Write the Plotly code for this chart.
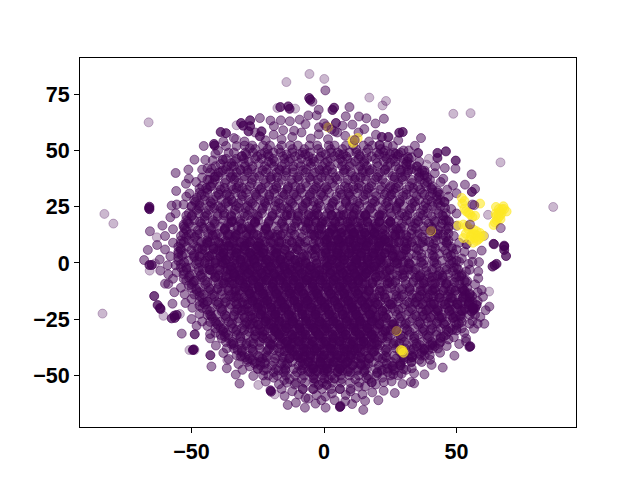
import plotly.graph_objects as go

# Estimated t-SNE embedding points (x, y)
faint_points = [(-66.2,62.5),(-82.9,21.8),(-79.5,17.5),(-14.2,80.4),(-5.5,84),(0.1,81.8),(-83.6,-22.5),(17.1,73.5),
(23.4,72),(22.1,70),(48.8,66.3),(55.3,66.6),(66.6,44.7),(86.5,24.9),(-24.8,-54.2),(-33,61.2),(-17.6,68.9),
(-18.6,-58.4),(62.3,-12.7),(61.9,21.4),(60.4,12),(-63.1,11.4),(-33.2,55),(-65.8,-3.4),(-60.6,-23.5),(-50.8,-38.7),
(-48.9,-38.7),(39.6,46.3),(38.7,43.7),(-10.9,68.6),(-54.4,-22.7),(-63.8,-0.2),(-36.5,-43.2)]

medium_points = [(0.5,76.7),(-4.4,71.7),(-2,68.1),(-2.8,65.6),(-5.9,65.6),(-9.2,63.7),(-12.9,63),(-16.3,63.4),(-20.2,63.3),
(-24.2,64.4),(-18.9,60.8),(-15.4,59),(-11.3,58.8),(-7,61.7),(-1.9,60.3),(-45.4,52),(-37,52),(-48.9,45.9),(-44.8,45.8),
(-42,45.6),(-51.2,41.5),(-46,41.5),(-42.4,41.8),(-56,40),(-39.1,40.3),(-52.1,35.2),(-48.3,36),(-43.3,37),(-55.8,32),
(-50.8,30.9),(-55.6,26),(-57.5,25.5),(-58,20.3),(-61,16.6),(-65.7,14.1),(-66.5,5.8),(-67.9,1.3),(-61.8,-3.4),(-58.8,-5),
(-55.6,-4.2),(-60,-9.2),(-58.8,-9.3),(-56.5,-13),(-52.6,-13.9),(-57.2,-18.1),(-52.3,-17.8),(-49.7,-19.9),(-47,-22.7),
(-50,-24.9),(-48.1,-27.9),(-53.7,-31.4),(-43,-31.6),(-43,-33.5),(-40.8,-36.7),(-38.6,-33.5),(-36.7,-38),(-36,-42.7),
(-31.5,-41.6),(-42.5,-46),(-36.7,-46.8),(-32.3,-44.9),(-27,-43.1),(-30.8,-47.5),(-33.3,-49.6),(-31.9,-53.6),(-26.7,-50.2),
(-22,-52.7),(-17,-53.9),(-14.9,-59.1),(-13.7,-63.1),(-10.6,-62.1),(-9.5,-58.5),(-7.2,-64.3),(-3.2,-62.5),(0.6,-64.3),
(0.6,-59.4),(-5.9,-60.3),(-2.8,-58.7),(10.6,-62.7),(14.8,-65.3),(15.5,-61.3),(20.5,-61),(18.2,-57.5),(22.5,-56.8),
(26.7,-57.8),(14.5,-58.4),(8.2,-58.7),(29.6,-53.8),(32.8,-52.9),(34,-53.5),(25.5,-52.6),(22.6,-53),(19.6,-54),(15.5,-54.9),
(37.9,-49.5),(29.3,-49.3),(26.2,-49.5),(44.8,-46.5),(40.6,-45.3),(36.9,-44),(33.1,-46.8),(28.7,-45.5),(49.2,-41.2),
(43.8,-39.9),(39.9,-41),(36.1,-40.3),(33.1,-41.9),(41.8,-36.9),(46.3,-36.9),(53.6,-34.9),(53.6,-33.5),(56.6,-29.2),
(60.5,-27),(62.4,-19.4),(58.2,-6.8),(58.2,-3.8),(58.5,0.4),(54.5,-0.4),(53.6,-3.8),(59.5,5.5),(56,3.8),(51,0.6),(59.5,-12),
(56,-25.8),(50,-30),(9.6,69.3),(8.2,65.2),(13.2,65.1),(16,64.3),(22.6,64.1),(19.4,62),(10.7,61.5),(15.2,59.5),(19.6,57),
(36.6,55.5),(34.3,52.1),(30,50),(31.6,47.1),(49.6,41.9),(45.6,42.2),(55.7,39.4),(53.2,34.8),(57,32.9),(48.7,34.5),(46.5,32.6),
(45,37.4),(41.8,39.9),(37.9,38.9),(35.2,42.8),(32.5,43.7),(64.2,8.3),
(-34,55.5),(-30,54),(-26,58),(-22,54.5),(-19,57),(-16,55),(-12,56),(-8.5,58),(-5,55.3),(-2,57.2),(1.5,55),(5,58),(8,56.5),(0,62),
(4,58.5),(7,61),(13,58),(17,54),(21,52.5),(26,52),(28,54.5),(32,50),(33,47),(-36,49),(-41,48.5),(-33,52),(-28,51),(-38,54),(-31,47.5),
(36,45),(38,41),(42,43),(39,36),(44,36),(43,32),(47,29.5),(50,31),(45.5,27),(48,24),(50,22),(47,19),(50,16.5),(35,41),(31,44),(27,48.5),(23,50),
(49,12),(51,9),(50,6),(53,5),(52,2),(56,0.5),(55,-3),(51,-6),(54,-8),(57,-9.5),(58,-13),(55,-13.5),(60,-15),(58,-17),(61,-21),(59,-24),(57,-23),
(55,-27),(58,-27),(52,-29),(53,-31),(49,-33),(47,-34),(51,-36),(44,-33),(43,-38),(40,-36.5),(38,-38),(35,-37),(40,-43),(36,-43),(33,-44),(30,-43),
(34,-49),(31,-47.5),(28,-50),(24,-47),(26,-46),(22,-51),(20,-49),(18,-53),(13,-55),(10,-57),(16,-51),(6,-56),(3,-58),(12,-60),(8,-61.5),(4,-61),
(-1,-61),(-4,-56),(-8,-56),(-12,-57),(-7,-60),(-11,-54),(-15,-52),(-19,-51),(-23,-50),(-16,-56),(-25,-47),(-28,-46),(-24,-44),(-29,-43),(-33,-41),
(-31,-39),(-35,-36),(-38,-40),(-37,-31),(-41,-31),(-39,-29),(-44,-28),(-41,-26),(-46,-26),(-43,-23),(-47,-19),(-44,-17),(-50,-16),(-47,-13),(-51,-10),
(-54,-11),(-49,-8),(-53,-7),(-57,-7),(-56,-1),(-52,-2),(-59,-1),(-62,1.5),(-58,3),(-60,6),(-55,5),(-63,8),(-57,9),(-60,12),(-54,12),(-57,15),(-53,17),
(-56,22),(-52,21),(-53,26),(-50,25),(-52,29.5),(-48,29),(-47,33),(-51,37.5),(-46,38),(-43,34),(-44,42),(-41,38.5),(-39,44),(-35,43),(-40,50)]

dark_points = [(-5.6,73.3),(-5.2,72.5),(-16.5,69.3),(-13.5,69.6),(-13,68.5),(-27.9,63.4),(-31.3,62.2),(-30.5,61),(-27.9,60.8),
(-28.5,58.5),(-23.6,58.5),(-24.2,56.3),(-39,58.2),(-37,57.7),(-41.5,52.9),(-41.3,52.2),(-38.2,45.9),(-65.9,25),(-65.9,23.9),
(-66,24.4),(-65,-0.9),(-65.9,-0.9),(-64.1,-14.7),(-62.8,-18.7),(-61.9,-20),(-61.7,-20.5),(-56.5,-23.4),(-57.5,-24.6),
(-55.6,-23.1),(-56.3,-24.4),(-48.8,-31.7),(-49.5,-38.7),(-49.2,-38.4),(-42.9,-41),(-20,-57.2),(-20.2,-56.6),(6,-64),(6.2,-63.6),
(3.8,69),(3.2,68),(4.5,62.2),(28.4,57.9),(29.7,58.2),(21.8,56),(24.3,56),(35.5,48.9),(42.8,48.9),(46,49.6),(42.8,46.7),(49.7,45.5),
(55.8,31.6),(68,7.3),(68,5.8),(68.7,3.1),(63.6,-1.6),(65.1,-0.4),(64.4,-1),(54.9,-37.3),(55.2,-37),(56.4,-20.9),(57,-20.2),
(55.7,-21.6),(57.6,-18.7),(56.2,-20),(68,7.7),(64,8.5),(53.8,8.3)]

pass1_y = [52.2,49.1,46.3,43,40.2,37,34.1,31.2,28,25.3,22.1,19,16.2,13.1,10,7.2,4.1,1,-2.1,-5,-7.8,-11.1,-14,-17.2,-20,-23.1,-26.2,-29,-32,-35.1,-38,-41.2,-44,-47.1,-50,-53.2,-56]
pass1_x = [
[-30,-27.1,-23,-20.4,-16,-12.7,-9.9,-5.5,-2.6,1.8,4,8.3,11,14.9,18.2,21,24],
[-34,-29.6,-26.8,-22.5,-19,-16.4,-12,-8.1,-5.3,-1,2.7,5.1,9.6,12.2,16,19.9,22.4,26.3,29],
[-37,-33.2,-30.3,-26,-23.5,-19.2,-15,-12.6,-8.5,-4.2,-1.9,2.4,6.1,8.8,13,16.2,19.4,23.7,26.1,30,32],
[-41,-36.5,-34,-29.8,-27,-22.4,-19,-16,-11.5,-8.8,-4.9,-0.6,2.2,6.8,9.7,13.6,16.1,20.3,23.9,27,31.2,35],
[-43,-39.8,-35.6,-33,-28.7,-25.1,-21.9,-18,-14.2,-11.6,-7,-3.5,0,3.2,7.5,10.1,14.7,17.3,21.1,24.4,28.8,31.5,35.9,38],
[-44,-41.2,-37,-33.9,-30,-27.2,-22.8,-20,-15.9,-12.3,-9.5,-5.1,-2.4,2,4.9,9,11.6,15.8,19.3,22,26.5,29.7,33,36.4,40],
[-46,-42.6,-39.4,-35,-32.3,-28,-24.9,-21,-18.1,-13.6,-10.8,-6.6,-3,0.7,3.9,7.8,11,14.1,17.9,21.6,25,28.2,32.3,35.4,38.6,41],
[-47,-44,-40,-36.6,-33.4,-29.5,-26.1,-23,-18.8,-15.7,-11.4,-8.3,-4.6,-1,1.9,6,9.2,12.6,16.5,19.1,23.4,26.5,30.1,33.8,37.1,40.9,43],
[-49,-45.2,-41.8,-38.7,-35,-31.1,-28.4,-24,-20.8,-17,-13.3,-9.6,-6.9,-2.3,0.9,4.4,8.1,10.9,15.2,18.4,21.7,25.9,28.6,32.5,35.9,39.2,42.8,44],
[-50,-46.7,-43.1,-39.9,-36,-33.2,-28.9,-26,-21.7,-18.5,-15.1,-11.2,-8,-4.3,-1.4,3,5.8,9.6,13.2,16.4,20.1,23.6,27.3,30,34.4,37.6,41,44],
[-51,-47.3,-44.6,-40.4,-37.5,-33.7,-30.3,-26.8,-23.4,-19.5,-16.6,-12.5,-9.7,-5.6,-2.7,1.3,4.6,8.5,11.5,15.1,18.6,22.3,25.2,29.4,32.4,36.3,39.1,43.2,46],
[-52,-48.9,-45,-42,-38,-34.8,-31.6,-27.5,-24.7,-20.6,-17.4,-14,-10.3,-7,-3.4,0,3.6,6.9,10.7,13.9,17.6,21,24.4,28.1,31.2,35,38.3,41.6,45,46],
[-53,-49.6,-46.1,-43,-39.2,-35.5,-32.7,-28.6,-25.3,-22,-18.2,-15,-11,-8.3,-4.1,-1.2,2.9,5.7,9.4,12.9,16.8,19.5,23.2,26.8,30.3,33.6,37.4,40.5,44,47],
[-53,-50.2,-47,-43.6,-40.1,-36.3,-33.4,-29.3,-26.5,-22.7,-19.6,-15.5,-12.6,-9,-5.4,-2.1,1.5,4.8,8.9,11.6,15.4,18.9,22.1,25.8,28.9,33,35.9,39.6,42.9,47],
[-54,-51,-47.8,-44.2,-41,-37.2,-34,-30.2,-27.1,-23.6,-20.2,-16.9,-13,-10.1,-6.3,-3,0.4,4.1,7.2,11.2,14.3,17.7,21.3,24.6,28.4,31.5,35.1,38.4,42.2,45.3,47],
[-55,-51.7,-48.1,-45,-41.6,-38,-34.9,-31.3,-28,-24.2,-21.1,-17.5,-14.2,-10.6,-7.4,-3.7,-0.6,3.3,6.2,10,13.4,16.9,20.3,23.7,27.2,30.9,33.9,37.7,40.9,44.6,48],
[-55,-52.4,-49,-45.6,-42.1,-38.9,-35.2,-32,-28.5,-25.1,-21.8,-18.3,-15,-11.3,-8.2,-4.5,-1.1,2.1,5.6,9,12.3,15.9,19.2,22.8,26.1,29.8,32.9,36.6,39.8,43.4,46.5,49],
[-55,-51.3,-48,-44.7,-41,-37.7,-34.3,-30.8,-27.4,-24,-20.6,-17.2,-13.8,-10.3,-7,-3.2,0.1,3.5,7,10.4,13.8,17.3,20.5,24.2,27.5,30.9,34.5,37.8,41.2,44.5,48,50],
[-54,-50.5,-47.2,-43.5,-40.3,-36.8,-33.3,-30,-26.3,-23,-19.7,-16,-12.8,-9.2,-5.9,-2.4,1,4.3,8,11.1,14.8,18,21.7,24.9,28.5,31.8,35.4,38.7,42.3,45.6,49,50],
[-53,-49.8,-46.2,-42.8,-39.5,-35.9,-32.4,-29,-25.6,-22.1,-18.7,-15.3,-11.8,-8.4,-4.8,-1.6,2,5.4,8.7,12.4,15.6,19.3,22.6,26,29.6,32.7,36.5,39.5,43.3,46.7,50,52],
[-52,-48.4,-45,-41.7,-38.3,-34.7,-31.5,-27.9,-24.5,-21,-17.9,-14.2,-10.9,-7.3,-3.9,-0.5,3,6.6,9.9,13.2,16.9,20.1,23.8,27,30.7,33.9,37.5,40.6,44.3,47.6,51.2,53],
[-50,-46.8,-43.4,-40,-36.4,-33.1,-29.7,-26.2,-22.9,-19.3,-16.1,-12.4,-9.2,-5.7,-2.2,1.2,4.6,7.9,11.6,14.7,18.4,21.6,25.3,28.4,32.1,35.3,38.8,42,45.6,48.9,52.1,54],
[-49,-45.5,-42,-38.8,-35.2,-31.9,-28.4,-25,-21.5,-18,-14.6,-11.1,-7.8,-4.2,-1,2.4,5.9,9.3,12.8,16.1,19.7,22.9,26.5,29.9,33.2,36.8,40,43.5,46.8,50.3,53.5,55],
[-47,-44,-40.6,-37.1,-33.7,-30.4,-26.9,-23.4,-20,-16.7,-13.1,-9.8,-6.4,-2.8,0.5,4,7.4,10.7,14.4,17.6,21.2,24.4,28,31.4,34.8,38.2,41.5,45,48.4,51.8,55,56],
[-46,-42.3,-39,-35.7,-32.2,-28.8,-25.3,-21.9,-18.6,-15,-11.7,-8.2,-4.9,-1.3,2,5.5,8.8,12.3,15.8,19.1,22.7,25.9,29.5,32.8,36.3,39.7,43,46.6,49.9,53.3,56],
[-44,-40.7,-37.4,-34,-30.6,-27.1,-23.8,-20.2,-17,-13.4,-10.1,-6.6,-3.3,0.2,3.7,7,10.6,13.8,17.4,20.6,24.2,27.6,31,34.4,37.7,41.3,44.5,48,51.4,55],
[-43,-39.3,-36,-32.6,-29.1,-25.7,-22.4,-18.8,-15.5,-12,-8.6,-5.2,-1.7,1.6,5,8.5,11.9,15.3,18.7,22.1,25.6,29,32.3,35.9,39.2,42.6,46,49.4,52],
[-41,-37.8,-34.4,-31,-27.6,-24.1,-20.8,-17.3,-13.9,-10.4,-7.1,-3.6,-0.2,3.3,6.6,10.1,13.4,16.9,20.3,23.7,27.2,30.5,34,37.3,40.8,44,47.6,50],
[-39,-36.2,-32.9,-29.4,-26,-22.6,-19.1,-15.7,-12.3,-8.9,-5.4,-2.1,1.4,4.8,8.2,11.7,15,18.5,21.9,25.3,28.8,32.1,35.6,38.9,42.4,46],
[-37,-34.5,-31.2,-27.8,-24.3,-21,-17.5,-14.1,-10.7,-7.2,-3.9,-0.4,3,6.4,9.9,13.2,16.7,20.1,23.5,27,30.3,33.8,37.1,40.6,44],
[-34,-31.1,-27.6,-24.2,-20.7,-17.4,-13.9,-10.5,-7.1,-3.6,-0.3,3.2,6.6,10,13.5,16.8,20.3,23.7,27.1,30.6,33.9,37.4,41],
[-31,-28.3,-24.9,-21.5,-18,-14.7,-11.2,-7.8,-4.4,-0.9,2.4,5.9,9.3,12.7,16.2,19.5,23,26.4,29.8,33.3,36.6,38],
[-29,-25.8,-22.4,-18.9,-15.6,-12.1,-8.7,-5.3,-1.8,1.5,5,8.4,11.8,15.3,18.6,22.1,25.5,28.9,33],
[-25,-21.6,-18.2,-14.7,-11.4,-7.9,-4.5,-1.1,2.4,5.7,9.2,12.6,16,19.5,22.8,26.3,30],
[-21,-17.7,-14.3,-10.8,-7.5,-4,-0.6,2.8,6.3,9.6,13.1,16.5,19.9,25],
[-14,-10.6,-7.2,-3.7,-0.4,3.1,6.5,9.9,13.4,18],
[-8,-4.2,-0.8,2.7,6,10],
]

pass2_y = [50.6,47.4,44.4,41.7,38.6,35.5,32.6,29.7,26.5,23.6,20.7,17.5,14.6,11.5,8.6,5.7,2.5,-0.5,-3.6,-6.5,-9.4,-12.5,-15.6,-18.5,-21.5,-24.6,-27.5,-30.6,-33.5,-36.5,-39.6,-42.5,-45.6,-48.5,-51.6]
pass2_x = [
[-26,-21.3,-17.1,-11.9,-7.4,-2.2,2.5,7,12.1,16.6,21.4],
[-31,-25.2,-20.8,-15.5,-10.9,-5.8,-1.2,3.9,8.4,13.6,18,23,27.7],
[-35,-30.2,-24.6,-19.9,-14.8,-9.6,-5,0.4,5.3,10.2,15.1,20,25,30],
[-37,-31.7,-27.4,-21.6,-17,-11.8,-6.7,-1.9,3,8.2,13,18.1,23.2,28.3,33],
[-40,-34.6,-29.9,-24.4,-19.7,-14.5,-9.4,-4.3,0.6,5.8,10.7,15.7,20.6,25.9,30.6,36],
[-42,-37.4,-32.1,-27.3,-22.1,-17.2,-12,-7,-2,3.1,8.1,13.2,18,23.1,28,33.2,38],
[-44,-39,-34.3,-29.1,-24.2,-19,-14,-8.9,-3.9,1.2,6.1,11.2,16.1,21.3,26.2,31.2,36.3,40.8],
[-45,-40.7,-35.6,-30.7,-25.5,-20.6,-15.4,-10.4,-5.4,-0.3,4.7,9.8,14.8,19.7,24.9,29.8,34.9,39.9,42.5],
[-47,-42.4,-37.1,-32.4,-27,-22.2,-17,-12,-6.9,-1.9,3.2,8.2,13.3,18.2,23.4,28.3,33.4,38.3,43],
[-48,-43.5,-38.3,-33.6,-28.2,-23.4,-18.1,-13.1,-8.1,-3,2.1,7,12.2,17.2,22.2,27.3,32.2,37.4,42.4],
[-50,-45.1,-40.2,-35,-30,-24.9,-19.8,-14.8,-9.7,-4.7,0.4,5.4,10.5,15.4,20.5,25.6,30.5,35.6,40.7,45],
[-51,-46.3,-41.2,-36.2,-31.1,-26.1,-21,-16,-10.9,-5.9,-0.8,4.2,9.3,14.3,19.3,24.4,29.4,34.4,39.5,44.5],
[-52,-47.6,-42.5,-37.5,-32.4,-27.4,-22.3,-17.3,-12.2,-7.2,-2.1,2.9,8,13,18,23.1,28.1,33.1,38.2,43.2,46],
[-52,-48.8,-43.7,-38.7,-33.6,-28.6,-23.5,-18.5,-13.4,-8.4,-3.3,1.7,6.8,11.8,16.8,21.9,26.9,31.9,37,42,46],
[-54,-49.4,-44.4,-39.3,-34.3,-29.2,-24.2,-19.1,-14.1,-9,-4,1.1,6.1,11.2,16.2,21.2,26.3,31.3,36.3,41.4,46.4],
[-54,-50.1,-45,-40,-34.9,-29.9,-24.8,-19.8,-14.7,-9.7,-4.6,0.4,5.5,10.5,15.5,20.6,25.6,30.6,35.7,40.7,45.7],
[-55,-49,-44,-38.9,-33.9,-28.8,-23.8,-18.7,-13.7,-8.6,-3.6,1.5,6.5,11.6,16.6,21.6,26.7,31.7,36.7,41.8,46.8],
[-54,-48.3,-43.2,-38.2,-33.1,-28.1,-23,-18,-12.9,-7.9,-2.8,2.2,7.3,12.3,17.3,22.4,27.4,32.4,37.5,42.5,47.5],
[-53,-47.2,-42.1,-37.1,-32,-27,-21.9,-16.9,-11.8,-6.8,-1.7,3.3,8.4,13.4,18.4,23.5,28.5,33.5,38.6,43.6,48.6],
[-51,-46,-41,-35.9,-30.9,-25.8,-20.8,-15.7,-10.7,-5.6,-0.6,4.5,9.5,14.6,19.6,24.6,29.7,34.7,39.7,44.8,49.8],
[-50,-44.8,-39.8,-34.7,-29.7,-24.6,-19.6,-14.5,-9.5,-4.4,0.6,5.7,10.7,15.8,20.8,25.8,30.9,35.9,40.9,46,51],
[-48,-43.6,-38.6,-33.5,-28.5,-23.4,-18.4,-13.3,-8.3,-3.2,1.8,6.9,11.9,17,22,27,32.1,37.1,42.1,47.2,52.2],
[-46,-42.4,-37.4,-32.3,-27.3,-22.2,-17.2,-12.1,-7.1,-2,3,8.1,13.1,18.2,23.2,28.2,33.3,38.3,43.3,48.4,53.4],
[-45,-40.2,-35.2,-30.1,-25.1,-20,-15,-9.9,-4.9,0.2,5.2,10.3,15.3,20.4,25.4,30.4,35.5,40.5,45.5,50.6,54.6],
[-43,-38.6,-33.6,-28.5,-23.5,-18.4,-13.4,-8.3,-3.3,1.8,6.8,11.9,16.9,22,27,32,37.1,42.1,47.1,52.2],
[-42,-37.2,-32.2,-27.1,-22.1,-17,-12,-6.9,-1.9,3.2,8.2,13.3,18.3,23.4,28.4,33.4,38.5,43.5,48.5,52],
[-40,-35.1,-30.1,-25,-20,-14.9,-9.9,-4.8,0.2,5.3,10.3,15.4,20.4,25.5,30.5,35.5,40.6,45.6,50],
[-38,-33.3,-28.3,-23.2,-18.2,-13.1,-8.1,-3,2,7.1,12.1,17.2,22.2,27.3,32.3,37.3,42.4,47],
[-36,-31.6,-26.6,-21.5,-16.5,-11.4,-6.4,-1.3,3.7,8.8,13.8,18.9,23.9,29,34,39,44],
[-34,-29.4,-24.4,-19.3,-14.3,-9.2,-4.2,0.9,5.9,11,16,21.1,26.1,31.2,36.2,41],
[-31,-26.8,-21.8,-16.7,-11.7,-6.6,-1.6,3.5,8.5,13.6,18.6,23.7,28.7,33.8,37],
[-28,-23.3,-18.3,-13.2,-8.2,-3.1,1.9,7,12,17.1,22.1,27.2,32],
[-24,-19.7,-14.7,-9.6,-4.6,0.5,5.5,10.6,15.6,20.7,25.7,29],
[-19,-15.2,-10.2,-5.1,-0.1,5,10,15.1,20.1,24],
[-13,-8.4,-3.4,1.7,6.7,11.8,16.8],
]

pass3_y = [48.3,45.1,41.2,38.1,33.3,30.4,27.2,24.4,21.2,18.3,15.4,12.5,9.3,6.4,3.3,0.3,-2.9,-5.7,-8.6,-11.7,-14.8,-17.7,-20.7,-23.7,-26.9,-29.8,-32.7,-35.8,-38.7,-41.9,-44.8,-47.8]
pass3_x = [
[-29.3,-23.8,-21.2,-14.1,-9.2,-7.1,0.6,5.9,7.3,13.2,20.8,24.9,28.1],
[-33.7,-28.3,-21,-18.6,-13.2,-6.1,-3.8,1.4,6.9,11.7,15.2,22.6,26.8,31.4],
[-38.2,-31.5,-28.9,-23.2,-16.7,-14.4,-8,-1.6,1.1,7.6,14.5,17.2,22.9,29.1,31.8,37],
[-41.4,-35.2,-33.3,-26.4,-20.3,-17.7,-10.1,-5.6,-0.9,4.2,11.9,13.8,20,26.7,29.4,35.8,39],
[-44.5,-37.6,-33,-30.7,-23.6,-17.9,-13.7,-8.8,-3.1,0.3,9.1,12.9,16.9,24.8,27.1,33.7,40.5],
[-46.3,-39.7,-36.9,-31.2,-25.8,-20.7,-14.9,-11.4,-5.3,-1.2,6.7,9.4,15.6,22.8,25.4,31.1,37.8,43.6],
[-48.6,-42.9,-36.3,-34.4,-27.6,-22.5,-18.3,-12.6,-6.2,-3.9,3.5,8.3,12.6,19.2,24.1,28.7,34.3,40.6,45.4],
[-47.2,-41.5,-39,-32.1,-29.7,-23.1,-16.2,-13.8,-7.9,-2.6,1.9,9.6,11.4,17.7,24.7,27.3,32.9,38.9,45.7],
[-49.8,-44.1,-37.8,-35.1,-28.8,-25.3,-19.4,-12.5,-9.9,-3.7,2.8,6.3,13.5,15.7,21.9,28.6,31.4,37.3,44.6],
[-51.5,-46.8,-41.3,-34.5,-31.9,-26.1,-20.9,-15.7,-10.2,-5.8,-0.7,5.9,10,16.3,20.8,25.1,32.6,35.6,41.9,47.2],
[-52.6,-45.4,-42.7,-37.3,-30.8,-28.3,-21.9,-14.9,-12.4,-6.5,-1.9,3.4,9.8,13.1,19.7,25.8,29,34.7,40.8,46.9],
[-51.1,-47.9,-40.9,-35.6,-33.2,-26.7,-20.1,-17.6,-11.1,-4.7,-1.6,4.7,10.8,14.2,20.4,26.5,28.7,35.2,42.7,44.9],
[-52.9,-46.4,-43.1,-36.8,-31.5,-27.9,-22.3,-16.1,-9.3,-7.1,0.3,6.4,9.1,15,21.7,23.9,30.4,37.3,39.7,46.2],
[-54.1,-47.5,-41.7,-39.3,-32.9,-25.4,-23.1,-17.8,-11.9,-6,-2.7,2.9,10.4,12.7,19.6,24.8,30.1,34.9,42.1,48.4],
[-53.6,-49.1,-42.4,-38.1,-33.5,-27.3,-24.5,-18.2,-13,-6.4,-3.3,4.8,7.8,13.7,18.8,25.9,28.3,35,41.1,47.9],
[-52.8,-47.1,-40.9,-38.6,-31.4,-26.4,-20.8,-16.5,-9.1,-6.8,0.4,5.1,11.7,14.1,21.4,26.6,29.9,36.7,41.6,48.7],
[-51.9,-45.7,-43.2,-36.4,-30.2,-27.9,-21.3,-14.7,-12.4,-5.2,-0.1,4.9,10.9,16,19.4,24.6,31.9,34.5,40.8,46.3,50.6],
[-50.7,-46.6,-39.8,-34.1,-31.7,-25.2,-18.9,-16.1,-10,-3.3,-0.6,5.8,12.2,14.7,21.2,27.6,30.2,36.2,42.9,44.7,51.9],
[-49.4,-44.1,-37.5,-35.8,-29.1,-23.7,-19.2,-13.8,-7.5,-4.6,2.6,7.2,12.9,18.2,24.7,26.9,33.6,38.1,44,49.2,53.6],
[-48.2,-42.9,-40.3,-33.4,-26.9,-24.4,-17.8,-12.3,-9.6,-2.5,3.1,8.4,14.6,17.1,23.6,29.5,32.4,39,41.6,47.9,52.4],
[-46.9,-41.3,-35.5,-33.1,-26.3,-20.7,-16.2,-10.9,-4.8,-2.2,5.3,9.7,15.7,20.8,27.3,29.4,36,41.3,46.8,52.8,55.9],
[-45.6,-39.7,-37.3,-30.8,-24.9,-22.6,-15.8,-9.5,-6.9,0.2,6.4,10.5,16.9,19.3,25.9,32.2,34.4,40.2,47.1,50.4,54.7],
[-44.2,-38.4,-32.7,-30,-23.7,-17.4,-14.2,-8.1,-2.7,1.4,8.6,11.5,18.3,23.6,28.1,33.3,39.5,42.7,48.3,53.2],
[-42.5,-36.9,-34.1,-27.8,-21.6,-18.7,-12.2,-6.9,-3.6,3.3,9.1,12.8,19.6,22.4,29,34.9,37.1,43.4,49.7,51.5],
[-40.6,-34.7,-29.4,-26.8,-20.3,-14.5,-11.7,-5.2,-0.8,4.6,11.2,14,20.8,26.4,30.9,36.4,42.6,45.2,50.9],
[-38.2,-33,-30.1,-24.2,-18.1,-15.9,-9,-3.1,0.1,6.8,12.3,16.4,22.9,25.2,31.4,37.8,40.2,46.3,48.4],
[-37.4,-31.6,-25.9,-23.3,-16.8,-11,-8.2,-1.9,4.4,6.9,13.7,18.2,24.1,29.8,34.1,39.6,45.2],
[-34.2,-29.2,-26.7,-20.4,-14.6,-12.3,-5.6,0.2,3.2,9.8,15.6,19.1,26.2,28.4,34.9,40.9,43.5],
[-32.6,-26.9,-21.2,-18.9,-12.1,-6.7,-3.4,2.9,8.7,11.3,18,23.2,29.2,32.6,37.8,39.4],
[-29.8,-24.5,-21.7,-15.6,-9.7,-7.4,-0.8,4.9,7.9,14.2,20.4,23.6,30.2,33.4],
[-26.1,-22.3,-16.2,-13.9,-7.3,-1.4,2,8.1,13.8,16.6,23.7,28.8],
[-22.7,-17.2,-14.6,-8.6,-2.8,0.1,6.9,12.6,15.3,21.8,26.5],
]

core_y = [21.3,18.2,15.1,12.3,9.2,6.1,3,-0.1,-3.1,-6.2,-9.1,-12.3,-15.4,-18.3,-21.2,-24.3,-27.4,-30.3,-33.4,-36.3,-39.2,-42.3,-45.4,-48.3,-51.4,-54.2]
core_x = [
[-14,-6,-2.2,2.9,7.4,11.1,15.6,21],
[-35,-26,-7,-3.1,0.7,4.2,8.8,12.5,16.3,20.9,25],
[-37.5,-31.2,-27.8,-21.9,-5,-0.9,3.1,6.7,10.2,14.8,18.6,22.1,27.5],
[-42,-36.4,-33.1,-29.5,-25.2,-20.8,-16.3,-3.7,0.2,4.4,7.9,11.3,15.9,19.4,23,26.9,31],
[-44,-39.7,-35.5,-31.8,-28.1,-24.6,-20.2,-16.9,-12.1,-1.8,2.6,5.8,9.7,13.4,16.8,20.6,24.4,28.2,33],
[-46,-41.6,-37.9,-33.3,-29.8,-26,-22.7,-18.4,-14.9,-10.2,-3.2,0.9,4.7,8.1,12.2,15.7,19.3,23.5,26.9,31.1],
[-47,-43.4,-39,-35.7,-31.2,-27.6,-23.9,-20.4,-16.1,-12.8,-7.6,-0.7,2.9,6.4,10.6,14.1,17.9,21.5,25.8,29.2],
[-45,-41.1,-37.3,-33.8,-29.4,-26.2,-22,-18.3,-14.7,-10.9,-6.8,-2.9,1.1,4.6,8.9,12.3,16.4,19.8,23.7,27.6,32],
[-43,-39.4,-35.2,-31.6,-28,-24.1,-20.7,-16.8,-12.9,-9.3,-5.4,-1.7,2.3,6.2,9.6,13.7,17.1,21,24.9,30],
[-41,-37,-33.5,-29.3,-25.8,-22.4,-18.1,-14.6,-10.8,-6.9,-3.4,0.8,4.3,8.5,11.9,15.8,19.6,23.2,36,41],
[-38,-34,-30.7,-26.6,-23.1,-19.2,-15.4,-11.7,-8.1,-4.2,-0.6,3.5,7.2,10.8,14.6,18.3,24,37.5,41.9,46.3],
[-36,-31.9,-28.4,-24.3,-20.9,-17,-13.2,-9.5,-5.8,-2,1.7,5.5,9,13.1,16.7,21,36.4,40.8,45.1,49.6,53],
[-34,-30.2,-26.3,-22.8,-18.6,-15.1,-11.3,-7.4,-3.9,0.3,3.8,7.9,11.4,15.2,18.9,23,35,39.2,43.6,47.9,52.4,55],
[-33,-28.7,-25.1,-21.2,-17.4,-13.6,-9.9,-6.1,-2.3,1.4,5.2,9.1,12.7,16.5,20.1,25,37.1,41.5,45.8,50.2,54.5],
[-31,-27.4,-23.6,-19.8,-16,-12.2,-8.4,-4.6,-0.8,3,6.8,10.6,14.4,18.2,22,38.6,43,47.4,51.8],
[-30,-26,-22.2,-18.4,-14.6,-10.8,-7,-3.2,0.6,4.4,8.2,12,15.8,19.6,23.4,40.1,44.5,48.9],
[-28,-24.6,-20.8,-17,-13.2,-9.4,-5.6,-1.8,2,5.8,9.6,13.4,17.2,21,26],
[-26,-22.4,-18.6,-14.8,-11,-7.2,-3.4,0.4,4.2,8,11.8,15.6,19.4,23.2],
[-23,-19.4,-15.6,-11.8,-8,-4.2,-0.4,3.4,7.2,11,14.8,18.6,22],
[-20,-16.3,-12.5,-8.7,-4.9,-1.1,2.7,6.5,10.3,14.1,17.9,20],
[-15,-11.2,-7.4,-3.6,0.2,4,7.8,11.6,15.4,19],
[-13,-8.9,-5.1,-1.3,2.5,6.3,10.1,13.9,17],
[-8,-4.3,-0.5,3.3,7.1,10.9,14],
[-6,-2.4,1.4,5.2,9],
[-4,0.2,4],
[-2,1],
]

deep_y = [13.4,10.4,7.5,4.4,1.4,-1.6,-4.6,-7.6,-10.7,-13.7,-16.8,-19.8,-22.9,-25.9,-28.9,-31.9,-34.9,-38,-41,-44,-47]
deep_x = [
[2,6.5,11.2,15.4,19],
[1,5.3,9.8,14.1,18.5,23],
[-36,-30,-25,2.8,7.4,11.9,16,20.8],
[-38,-33,-28,-23,-18,0.6,5,9.5,14,18.4,23],
[-37,-31.5,-26.4,-21.6,-16.4,-11,3,7.7,12.1,16.5,21],
[-35,-30,-25.2,-20.1,-15,-10,-5,1.2,6,10.4,14.8,19],
[-34,-28.6,-23.5,-18.9,-13.6,-8.4,-3.4,2.4,7.1,11.6,16],
[-32,-26.9,-21.8,-16.7,-11.6,-6.5,-1.4,3.7,8.8,13],
[-30,-24.6,-19.5,-14.4,-9.3,-4.2,0.9,6,11.1],
[-28,-23,-17.9,-12.8,-7.7,-2.6,2.5,7.6,12.7],
[-27,-21.5,-16.4,-11.3,-6.2,-1.1,4,9.1,14.2],
[-25,-20,-14.9,-9.8,-4.7,0.4,5.5,10.6,15.7],
[-24,-18.4,-13.3,-8.2,-3.1,2,7.1,12.2,17.3],
[-22,-16.9,-11.8,-6.7,-1.6,3.5,8.6,13.7,18],
[-19,-14.3,-9.2,-4.1,1,6.1,11.2,16.3],
[-17,-12.1,-7,-1.9,3.2,8.3,13.4,18],
[-14,-9.5,-4.4,0.7,5.8,10.9,15],
[-13,-7.8,-2.7,2.4,7.5,12.6],
[-10,-5.1,0,5.1,10.2],
[-6,-1.4,3.7,8.8],
[-4,1.1,6],
]

yellow_points = [(1.6,60.3),(10.7,54.5),(12.7,55.5),(11,53.4),(52,28.9),(52.2,26.4),(53,24.1),(55.1,21.6),(54.4,22.4),(58.9,26.4),
(64.9,24.9),(67.7,25.2),(68.9,22.9),(66.4,22.9),(65.8,20.2),(65.2,18.8),(64,16.9),(66.4,21),(52.6,17.1),(50.7,16.7),(40.4,14.2),
(57.6,14.1),(58.9,13.3),(55.7,12.6),(57,11.1),(58.2,10.4),(52.6,11.1),(55.1,10.4),(60.1,12.1),(56.4,14.9),(27.4,-30.2),
(29.6,-38.9),(29,-38.7),(30,-39.9),(67.2,24),(64.8,22),(57.3,12.6),(55.4,12),(53.6,23),(56,20.4),(57,21),(66,24),(67,22),(65,20.8),
(66.6,19.5),(64.5,18),(65.8,22),(54.5,15),(53.5,13),(56.5,13),(58,12),(57.5,9.8),(56.3,9),(59,11.2),(54,16.5),(53,27.5),(68,24)]

top_purple_points = [(56.7,25.7),(55.1,17.1),(66.7,15.5),(40.2,14.4),(27.2,-29.8),(56,26),(0.8,60.8),(2.8,59.4),(11.6,54.6)]

xtick_vals = [-50, 0, 50]
ytick_vals = [-50, -25, 0, 25, 50, 75]

PURPLE = "68,1,84"
YELLOW = "253,231,37"


def expand(ys, rows):
    xs_out, ys_out = [], []
    for y, row in zip(ys, rows):
        for x in row:
            xs_out.append(x)
            ys_out.append(y)
    return xs_out, ys_out


def add(fig, xs, ys, rgb, alpha):
    fig.add_trace(go.Scatter(
        x=xs, y=ys, mode="markers", showlegend=False, hoverinfo="skip",
        marker=dict(size=9, color=f"rgba({rgb},{alpha})",
                    line=dict(width=1, color=f"rgba({rgb},{alpha})")),
    ))


fig = go.Figure()
for ys, rows, alpha in [(pass1_y, pass1_x, 0.5), (pass2_y, pass2_x, 0.5), (pass3_y, pass3_x, 0.55),
                        (core_y, core_x, 0.7), (deep_y, deep_x, 0.8)]:
    add(fig, *expand(ys, rows), PURPLE, alpha)
add(fig, *zip(*faint_points), PURPLE, 0.28)
add(fig, *zip(*medium_points), PURPLE, 0.5)
add(fig, *zip(*dark_points), PURPLE, 0.75)
add(fig, *zip(*yellow_points), YELLOW, 0.6)
add(fig, *zip(*top_purple_points), PURPLE, 0.45)

axis = dict(showgrid=False, zeroline=False, showline=True, linecolor="black", linewidth=1, mirror=True,
            ticks="outside", ticklen=5, tickwidth=1, tickcolor="black",
            tickfont=dict(family="Liberation Sans", size=21.5, color="black", weight="bold"))
fig.update_layout(
    width=632, height=472, autosize=False, paper_bgcolor="white", plot_bgcolor="white",
    margin=dict(l=72, r=64, t=50, b=53),
    xaxis=dict(range=[-92.1, 95.1], tickvals=xtick_vals, **axis),
    yaxis=dict(range=[-72.9, 91.1], tickvals=ytick_vals, **axis),
)
fig.write_html("out.html")
